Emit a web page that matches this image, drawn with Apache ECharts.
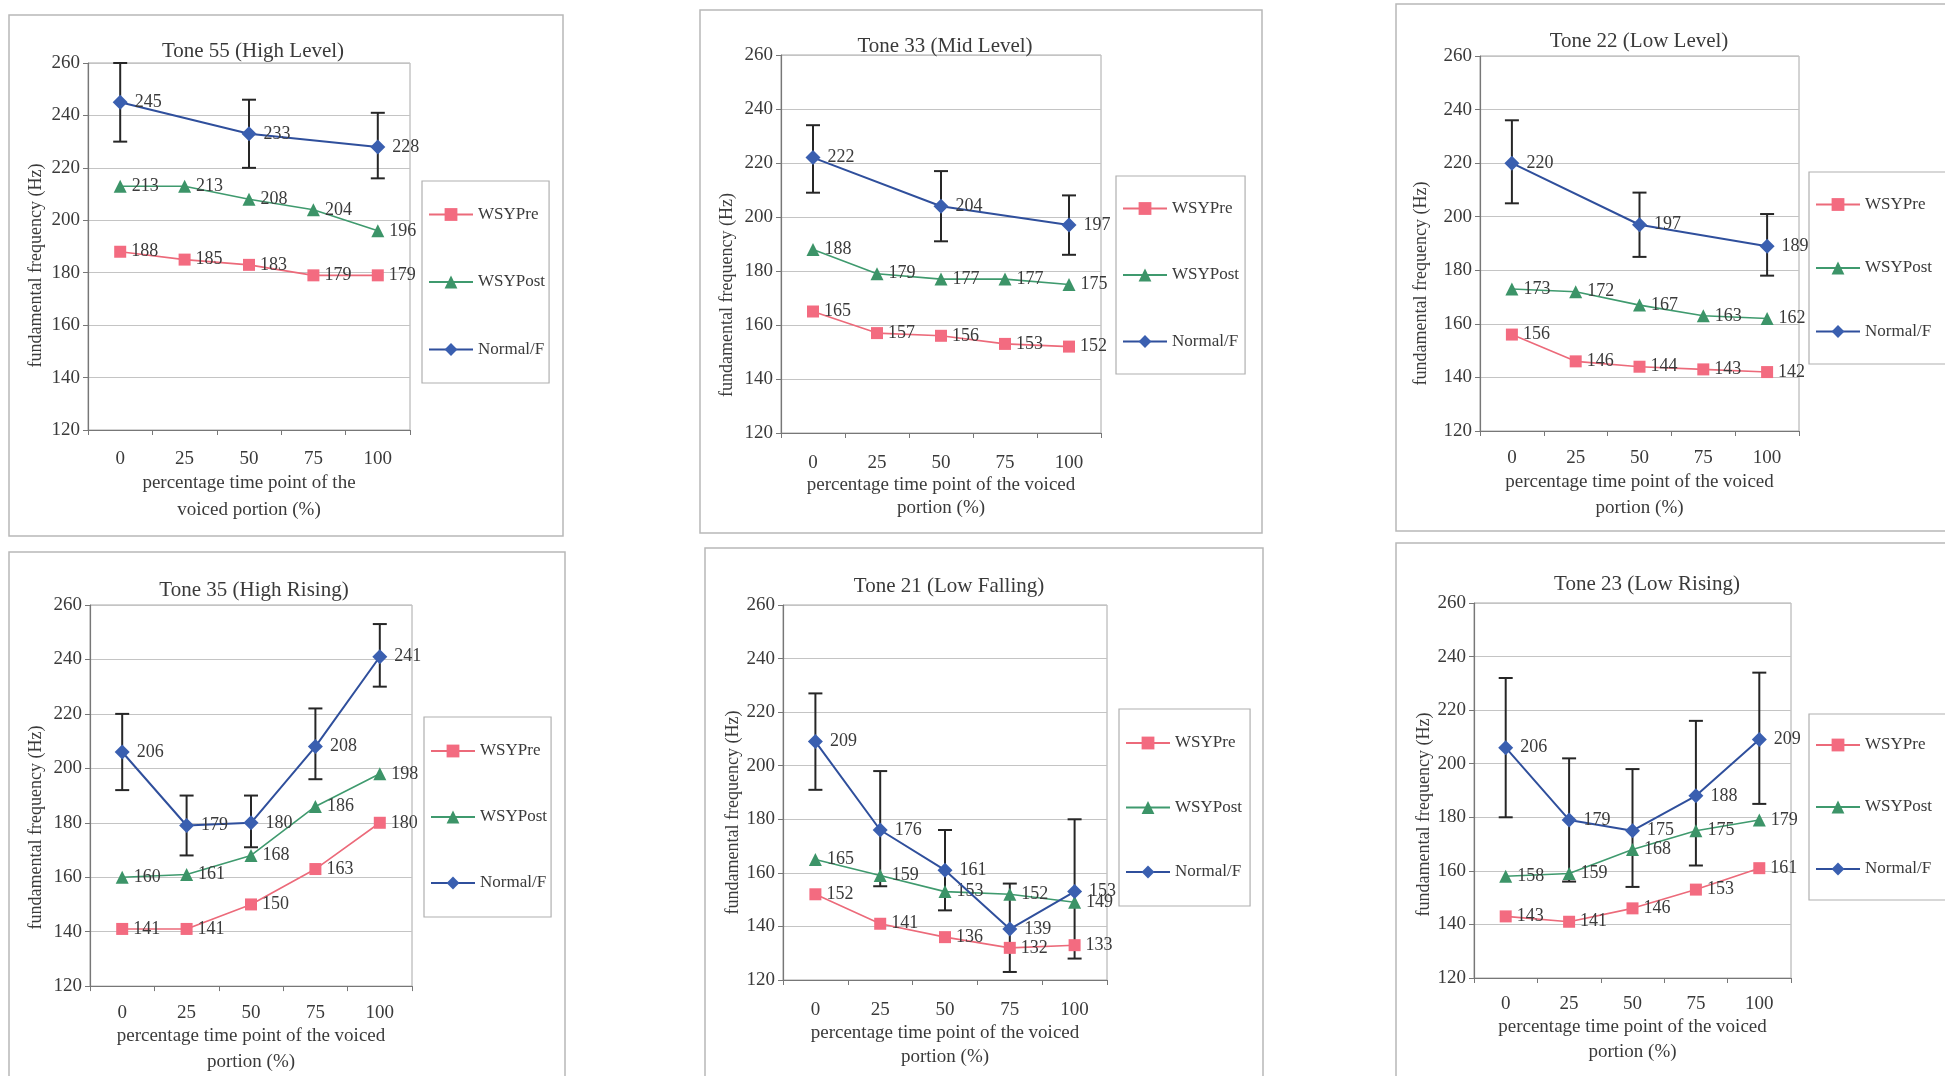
<!DOCTYPE html>
<html>
<head>
<meta charset="utf-8">
<script src="https://cdn.jsdelivr.net/npm/echarts@6/dist/echarts.min.js"></script>
<style>
html,body{margin:0;padding:0;background:#fff;}
#c{width:1945px;height:1076px;}
</style>
</head>
<body>
<div id="c"></div>
<script>
// ---------- data ----------
const categories = ['0', '25', '50', '75', '100'];
const seriesNames = ['WSYPre', 'WSYPost', 'Normal/F'];
const yTicks = [120, 140, 160, 180, 200, 220, 240, 260];

const titles = ['Tone 55 (High Level)', 'Tone 33 (Mid Level)', 'Tone 22 (Low Level)',
                'Tone 35 (High Rising)', 'Tone 21 (Low Falling)', 'Tone 23 (Low Rising)'];
const yName = 'fundamental frequency (Hz)';
const xNames = ['percentage time point of the\nvoiced portion (%)',
                'percentage time point of the voiced\nportion (%)',
                'percentage time point of the voiced\nportion (%)',
                'percentage time point of the voiced\nportion (%)',
                'percentage time point of the voiced\nportion (%)',
                'percentage time point of the voiced\nportion (%)'];

// Tone 55
const pre55  = [188, 185, 183, 179, 179];
const post55 = [213, 213, 208, 204, 196];
const norm55 = [245, null, 233, null, 228];
const lo55   = [230, null, 220, null, 216];
const hi55   = [260, null, 246, null, 241];
// Tone 33
const pre33  = [165, 157, 156, 153, 152];
const post33 = [188, 179, 177, 177, 175];
const norm33 = [222, null, 204, null, 197];
const lo33   = [209, null, 191, null, 186];
const hi33   = [234, null, 217, null, 208];
// Tone 22
const pre22  = [156, 146, 144, 143, 142];
const post22 = [173, 172, 167, 163, 162];
const norm22 = [220, null, 197, null, 189];
const lo22   = [205, null, 185, null, 178];
const hi22   = [236, null, 209, null, 201];
// Tone 35
const pre35  = [141, 141, 150, 163, 180];
const post35 = [160, 161, 168, 186, 198];
const norm35 = [206, 179, 180, 208, 241];
const lo35   = [192, 168, 171, 196, 230];
const hi35   = [220, 190, 190, 222, 253];
// Tone 21
const pre21  = [152, 141, 136, 132, 133];
const post21 = [165, 159, 153, 152, 149];
const norm21 = [209, 176, 161, 139, 153];
const lo21   = [191, 155, 146, 123, 128];
const hi21   = [227, 198, 176, 156, 180];
// Tone 23
const pre23  = [143, 141, 146, 153, 161];
const post23 = [158, 159, 168, 175, 179];
const norm23 = [206, 179, 175, 188, 209];
const lo23   = [180, 156, 154, 162, 185];
const hi23   = [232, 202, 198, 216, 234];

const toneData = [
  [pre55, post55, norm55, lo55, hi55],
  [pre33, post33, norm33, lo33, hi33],
  [pre22, post22, norm22, lo22, hi22],
  [pre35, post35, norm35, lo35, hi35],
  [pre21, post21, norm21, lo21, hi21],
  [pre23, post23, norm23, lo23, hi23]
];

// ---------- layout ----------
const layout = [
  {frame:[9,15,554,521],  grid:[88,63,322,367],  title:[248,48], yGap:43, yShift:19, xGap:40, xLH:27, xMargin:20, leg:[422,181,129,199], legGap:66.5},
  {frame:[700,10,562,523],grid:[781,55,320,378], title:[940,43], yGap:45, yShift:51, xGap:38, xLH:23, xMargin:21, leg:[1116,176,131,195], legGap:65.5},
  {frame:[1396,4,560,527],grid:[1480,56,319,375],title:[1634,38],yGap:50, yShift:40, xGap:35, xLH:26, xMargin:18, leg:[1809,172,150,189], legGap:62.5},
  {frame:[9,552,556,530], grid:[90,605,322,388], title:[249,587],yGap:45, yShift:32, xGap:26, xLH:26, xMargin:17, leg:[424,717,129,197], legGap:65},
  {frame:[705,548,558,535],grid:[783,605,324,375],title:[944,583],yGap:39, yShift:20, xGap:37, xLH:24, xMargin:21, leg:[1119,709,133,194], legGap:63.5},
  {frame:[1396,543,560,540],grid:[1474,603,317,375],title:[1642,581],yGap:41, yShift:24, xGap:33, xLH:25, xMargin:17, leg:[1809,714,150,183], legGap:61}
];

const FONT = 'Liberation Serif';
const TXT = '#3a3a3a';
const colors = {
  pre:  {line:'#ec6a7a', sym:'#f36b80'},
  post: {line:'#3f9a6e', sym:'#3c9468'},
  norm: {line:'#2f4f9c', sym:'#3a5fb0'}
};

const option = {
  animation: false,
  backgroundColor: '#fff',
  textStyle: {fontFamily: FONT},
  title: [], grid: [], xAxis: [], yAxis: [], legend: [], series: [], graphic: []
};

layout.forEach((L, i) => {
  const d = toneData[i];
  option.graphic.push({
    type: 'rect', silent: true, z: -10,
    shape: {x: L.frame[0], y: L.frame[1], width: L.frame[2], height: L.frame[3]},
    style: {fill: 'none', stroke: '#b8b8b8', lineWidth: 1.5}
  });
  option.title.push({
    text: titles[i], left: L.title[0], top: L.title[1] - 12, textAlign: 'center',
    textStyle: {fontFamily: FONT, fontSize: 21, fontWeight: 'normal', color: TXT}
  });
  option.grid.push({
    left: L.grid[0], top: L.grid[1], width: L.grid[2], height: L.grid[3],
    show: true, borderColor: '#a8a8a8', borderWidth: 1, backgroundColor: 'transparent'
  });
  option.xAxis.push({
    type: 'category', gridIndex: i, data: categories, boundaryGap: true,
    name: xNames[i], nameLocation: 'middle', nameGap: L.xGap,
    nameTextStyle: {fontFamily: FONT, fontSize: 19, color: TXT, lineHeight: L.xLH},
    axisLine: {lineStyle: {color: '#777', width: 1.2}},
    axisTick: {show: true, length: 5, lineStyle: {color: '#777'}},
    axisLabel: {fontFamily: FONT, fontSize: 19, color: TXT, margin: L.xMargin},
    splitLine: {show: false}
  });
  option.yAxis.push({
    type: 'value', gridIndex: i, min: 120, max: 260, interval: 20,
    name: yName, nameLocation: 'middle', nameGap: L.yGap,
    nameTextStyle: {fontFamily: FONT, fontSize: 18, color: TXT, padding: [0, 2 * L.yShift, 0, 0]},
    axisLine: {show: true, lineStyle: {color: '#777', width: 1.2}},
    axisTick: {show: true, length: 5, lineStyle: {color: '#777'}},
    axisLabel: {fontFamily: FONT, fontSize: 19, color: TXT, margin: 8},
    splitLine: {show: true, lineStyle: {color: '#c4c4c4', width: 1}}
  });
  const lg = L.leg;
  const vpad = (lg[3] - 2 * L.legGap - 16) / 2;
  option.legend.push({
    data: seriesNames, orient: 'vertical', left: lg[0], top: lg[1],
    itemWidth: 44, itemHeight: 16, itemGap: L.legGap - 16,
    padding: [vpad, lg[2] - 6 - 44 - 5 - 70, vpad, 6],
    borderColor: '#b0b0b0', borderWidth: 1.2, borderRadius: 0,
    textStyle: {fontFamily: FONT, fontSize: 17, color: TXT, lineHeight: 16},
    selectedMode: false
  });
  const labelCfg = {show: true, position: 'right', distance: 5, fontFamily: FONT, fontSize: 18, color: TXT};
  // error bars for Normal/F
  const errData = [];
  d[3].forEach((lo, k) => { if (lo != null) errData.push([k, lo, d[4][k]]); });
  option.series.push({
    type: 'custom', name: 'errorbar', xAxisIndex: i, yAxisIndex: i, z: 1, silent: true,
    data: errData, encode: {x: 0, y: [1, 2]},
    renderItem: function (params, api) {
      const x = api.value(0);
      const pLo = api.coord([x, api.value(1)]);
      const pHi = api.coord([x, api.value(2)]);
      const w = 7;
      const st = {stroke: '#262626', lineWidth: 2};
      return {type: 'group', children: [
        {type: 'line', shape: {x1: pLo[0], y1: pLo[1], x2: pHi[0], y2: pHi[1]}, style: st},
        {type: 'line', shape: {x1: pLo[0] - w, y1: pLo[1], x2: pLo[0] + w, y2: pLo[1]}, style: st},
        {type: 'line', shape: {x1: pHi[0] - w, y1: pHi[1], x2: pHi[0] + w, y2: pHi[1]}, style: st}
      ]};
    }
  });
  option.series.push({
    type: 'line', name: 'WSYPre', xAxisIndex: i, yAxisIndex: i, z: 3,
    data: d[0], symbol: 'rect', symbolSize: 12, connectNulls: true,
    lineStyle: {color: colors.pre.line, width: 1.6},
    itemStyle: {color: colors.pre.sym},
    label: labelCfg
  });
  option.series.push({
    type: 'line', name: 'WSYPost', xAxisIndex: i, yAxisIndex: i, z: 3,
    data: d[1], symbol: 'triangle', symbolSize: 13, connectNulls: true,
    lineStyle: {color: colors.post.line, width: 1.6},
    itemStyle: {color: colors.post.sym},
    label: labelCfg
  });
  option.series.push({
    type: 'line', name: 'Normal/F', xAxisIndex: i, yAxisIndex: i, z: 4,
    data: d[2].map(v => v == null ? '-' : v), symbol: 'diamond', symbolSize: 15, connectNulls: true,
    lineStyle: {color: colors.norm.line, width: 2},
    itemStyle: {color: colors.norm.sym},
    label: Object.assign({}, labelCfg, {distance: 7})
  });
});

const chart = echarts.init(document.getElementById('c'), null, {renderer: 'canvas'});
chart.setOption(option);
</script>
</body>
</html>
